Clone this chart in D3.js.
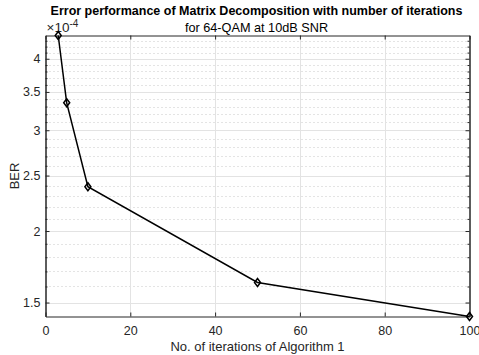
<!DOCTYPE html>
<html>
<head>
<meta charset="utf-8">
<script src="https://cdn.jsdelivr.net/npm/d3@7"></script>
<style>
  html, body { margin: 0; padding: 0; background: #fff; }
  svg { display: block; font-family: "Liberation Sans", Arial, Helvetica, sans-serif; }
</style>
</head>
<body>
<svg id="chart" width="479" height="355"></svg>
<script>
// Iteration counts and measured bit error rate (units of 1e-4)
const iterations = [3, 5, 10, 50, 100];
const berValues = [4.392, 3.35, 2.39, 1.626, 1.418];
const xTicks = [0, 20, 40, 60, 80, 100];
const yMajorTicks = [1.5, 2, 2.5, 3, 3.5, 4];
const yMinorTicks = [1.6, 1.7, 1.8, 1.9, 2.1, 2.2, 2.3, 2.4, 2.6, 2.7, 2.8, 2.9,
                     3.1, 3.2, 3.3, 3.4, 3.6, 3.7, 3.8, 3.9, 4.1, 4.2, 4.3];

const svg = d3.select("#chart");
const plotLeft = 45.5, plotRight = 469.5, plotTop = 35.5, plotBottom = 316.5;
const axisColor = "#262626";
const tickFont = 12.5, labelFont = 13;

const x = d3.scaleLinear().domain([0, 100]).range([plotLeft, plotRight]);
const y = d3.scaleLog().domain([d3.min(berValues), d3.max(berValues)]).range([plotBottom, plotTop]);

// minor grid (dotted)
svg.append("g").selectAll("line").data(yMinorTicks).join("line")
  .attr("x1", plotLeft).attr("x2", plotRight)
  .attr("y1", d => Math.round(y(d)) + 0.5).attr("y2", d => Math.round(y(d)) + 0.5)
  .attr("stroke", "#c8c8c8").attr("stroke-width", 1).attr("stroke-dasharray", "1,3");

// major grid
svg.append("g").selectAll("line").data(yMajorTicks).join("line")
  .attr("x1", plotLeft).attr("x2", plotRight)
  .attr("y1", d => Math.round(y(d)) + 0.5).attr("y2", d => Math.round(y(d)) + 0.5)
  .attr("stroke", "#e3e3e3").attr("stroke-width", 1);
svg.append("g").selectAll("line").data(xTicks.slice(1, -1)).join("line")
  .attr("y1", plotTop).attr("y2", plotBottom)
  .attr("x1", d => Math.round(x(d)) + 0.5).attr("x2", d => Math.round(x(d)) + 0.5)
  .attr("stroke", "#e3e3e3").attr("stroke-width", 1);

// axes: bottom / left with labels, top / right mirrored ticks only
const fmt = d => d3.format("~g")(d);
const xAxis = svg.append("g").attr("transform", `translate(0,${plotBottom})`)
  .call(d3.axisBottom(x).tickValues(xTicks).tickSizeInner(-4).tickSizeOuter(0).tickPadding(10).tickFormat(fmt));
const xAxisTop = svg.append("g").attr("transform", `translate(0,${plotTop})`)
  .call(d3.axisTop(x).tickValues(xTicks).tickSizeInner(-4).tickSizeOuter(0).tickFormat(""));
const yAxis = svg.append("g").attr("transform", `translate(${plotLeft},0)`)
  .call(d3.axisLeft(y).tickValues(yMajorTicks).tickSizeInner(-4).tickSizeOuter(0).tickPadding(5).tickFormat(fmt));
const yAxisR = svg.append("g").attr("transform", `translate(${plotRight},0)`)
  .call(d3.axisRight(y).tickValues(yMajorTicks).tickSizeInner(-4).tickSizeOuter(0).tickFormat(""));
const yMinL = svg.append("g").attr("transform", `translate(${plotLeft},0)`)
  .call(d3.axisLeft(y).tickValues(yMinorTicks).tickSizeInner(-2).tickSizeOuter(0).tickFormat(""));
const yMinR = svg.append("g").attr("transform", `translate(${plotRight},0)`)
  .call(d3.axisRight(y).tickValues(yMinorTicks).tickSizeInner(-2).tickSizeOuter(0).tickFormat(""));

[xAxis, xAxisTop, yAxis, yAxisR, yMinL, yMinR].forEach(g => {
  g.selectAll("path.domain").attr("stroke", axisColor).attr("stroke-width", 1);
  g.selectAll(".tick line").attr("stroke", axisColor);
  g.selectAll(".tick text").attr("fill", axisColor).attr("font-size", tickFont)
    .attr("font-family", "Liberation Sans, Arial, sans-serif");
});

// exponent label
const expo = svg.append("text").attr("x", plotLeft + 1).attr("y", 31.5)
  .attr("fill", axisColor).attr("font-size", 13.5);
expo.append("tspan").text("×10");
expo.append("tspan").attr("dy", -5).attr("font-size", 10).text("-4");

// data line and diamond markers
const line = d3.line().x((d, i) => x(iterations[i])).y(d => y(d));
svg.append("path").datum(berValues)
  .attr("d", line).attr("fill", "none").attr("stroke", "#000").attr("stroke-width", 1.5);
svg.append("g").selectAll("path").data(berValues).join("path")
  .attr("transform", (d, i) => `translate(${x(iterations[i])},${y(d)})`)
  .attr("d", "M0,-4L3,0L0,4L-3,0Z")
  .attr("fill", "none").attr("stroke", "#000").attr("stroke-width", 1.5);

// titles and axis labels
svg.append("text").attr("x", (plotLeft + plotRight) / 2 - 1).attr("y", 14.5).attr("text-anchor", "middle")
  .attr("font-size", 12.5).attr("font-weight", "bold").attr("fill", "#000")
  .text("Error performance of Matrix Decomposition with number of iterations");
svg.append("text").attr("x", (plotLeft + plotRight) / 2 - 1).attr("y", 31.5).attr("text-anchor", "middle")
  .attr("font-size", 12.7).attr("fill", "#000")
  .text("for 64-QAM at 10dB SNR");
svg.append("text").attr("x", (plotLeft + plotRight) / 2).attr("y", 350.5).attr("text-anchor", "middle")
  .attr("font-size", labelFont).attr("fill", axisColor)
  .text("No. of iterations of Algorithm 1");
svg.append("text").attr("transform", `translate(18.5,${(plotTop + plotBottom) / 2}) rotate(-90)`)
  .attr("text-anchor", "middle").attr("font-size", labelFont).attr("fill", axisColor)
  .text("BER");
</script>
</body>
</html>
